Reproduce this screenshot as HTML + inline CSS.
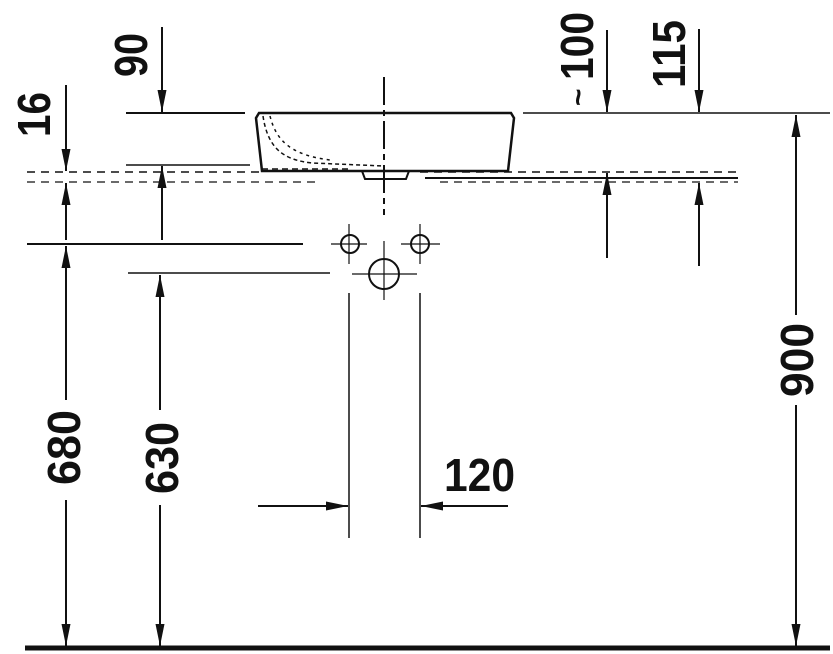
<!DOCTYPE html>
<html><head><meta charset="utf-8"><style>html,body{margin:0;padding:0;background:#fff}svg{display:block}</style></head><body>
<svg width="833" height="654" viewBox="0 0 833 654" xmlns="http://www.w3.org/2000/svg">
<defs>
<marker id="a" viewBox="0 0 22 9" refX="22" refY="4.5" markerWidth="22" markerHeight="9" markerUnits="userSpaceOnUse" orient="auto"><path d="M0,0 L22,4.5 L0,9 Z" fill="#111"/></marker>
</defs>
<g stroke="#111" fill="none">
<line x1="25" y1="648" x2="830" y2="648" stroke-width="5"/>
<line x1="126" y1="113" x2="245" y2="113" stroke-width="2"/>
<line x1="523" y1="113" x2="830" y2="113" stroke-width="1.5"/>
<line x1="126" y1="165" x2="250" y2="165" stroke-width="1.5"/>
<path d="M259,113 L511,113 L514,118 L508,171 L262,171 L256,118 Z" stroke-width="2.5"/>
<path d="M362,171 L365,179 L406,179 L409,171" stroke-width="2"/>
<path d="M263,116 C268,150 285,160 312,163 L384,166" stroke-width="1.5" stroke-dasharray="4,3"/>
<path d="M270,116 C276,140 290,155 330,160" stroke-width="1.5" stroke-dasharray="3,4"/>
<line x1="262" y1="169" x2="350" y2="169" stroke-width="1.5" stroke-dasharray="6,4"/>
<line x1="27" y1="172" x2="260" y2="172" stroke-width="1.5" stroke-dasharray="8,6"/>
<line x1="27" y1="182" x2="320" y2="182" stroke-width="1.2" stroke-dasharray="8,6"/>
<line x1="420" y1="172" x2="738" y2="172" stroke-width="1.5" stroke-dasharray="8,6"/>
<line x1="425" y1="178" x2="738" y2="178" stroke-width="2"/>
<line x1="440" y1="182" x2="738" y2="182" stroke-width="1.2" stroke-dasharray="8,6"/>
<line x1="384" y1="77" x2="384" y2="215" stroke-width="2" stroke-dasharray="28,5,6,5"/>
<line x1="27" y1="244" x2="303" y2="244" stroke-width="2"/>
<line x1="128" y1="273" x2="330" y2="273" stroke-width="1.5"/>
<circle cx="350" cy="244" r="9" stroke-width="2"/>
<line x1="331" y1="244" x2="367" y2="244" stroke-width="1.2"/>
<line x1="349" y1="224" x2="349" y2="264" stroke-width="1.2"/>
<circle cx="420" cy="244" r="9" stroke-width="2"/>
<line x1="401" y1="244" x2="440" y2="244" stroke-width="1.2"/>
<line x1="420" y1="224" x2="420" y2="264" stroke-width="1.2"/>
<circle cx="384" cy="274" r="15" stroke-width="2"/>
<line x1="352" y1="274" x2="417" y2="274" stroke-width="1.2"/>
<line x1="384" y1="241" x2="384" y2="300" stroke-width="1.2"/>
<line x1="349" y1="293" x2="349" y2="538" stroke-width="1.5"/>
<line x1="420" y1="293" x2="420" y2="538" stroke-width="1.5"/>
<g stroke-width="2">
<line x1="258" y1="506" x2="348" y2="506" marker-end="url(#a)"/>
<line x1="508" y1="506" x2="421" y2="506" marker-end="url(#a)"/>
<line x1="162" y1="27" x2="162" y2="112" marker-end="url(#a)"/>
<line x1="162" y1="240" x2="162" y2="166" marker-end="url(#a)"/>
<line x1="66" y1="85" x2="66" y2="171" marker-end="url(#a)"/>
<line x1="66" y1="240" x2="66" y2="183" marker-end="url(#a)"/>
<line x1="66" y1="400" x2="66" y2="246" marker-end="url(#a)"/>
<line x1="66" y1="500" x2="66" y2="646" marker-end="url(#a)"/>
<line x1="160" y1="410" x2="160" y2="275" marker-end="url(#a)"/>
<line x1="160" y1="505" x2="160" y2="646" marker-end="url(#a)"/>
<line x1="796" y1="315" x2="796" y2="115" marker-end="url(#a)"/>
<line x1="796" y1="405" x2="796" y2="646" marker-end="url(#a)"/>
<line x1="607" y1="30" x2="607" y2="112" marker-end="url(#a)"/>
<line x1="607" y1="258" x2="607" y2="173" marker-end="url(#a)"/>
<line x1="699" y1="29" x2="699" y2="112" marker-end="url(#a)"/>
<line x1="699" y1="266" x2="699" y2="183" marker-end="url(#a)"/>
</g>
</g>
<g font-family="Liberation Sans, sans-serif" font-weight="bold" font-size="46" fill="#111">
<text x="444" y="491" textLength="71" lengthAdjust="spacingAndGlyphs">120</text>
<text transform="translate(147,77) rotate(-90)" textLength="44" lengthAdjust="spacingAndGlyphs">90</text>
<text transform="translate(50,137) rotate(-90)" textLength="45" lengthAdjust="spacingAndGlyphs">16</text>
<text transform="translate(80,485) rotate(-90)" textLength="75" lengthAdjust="spacingAndGlyphs">680</text>
<text transform="translate(178,494) rotate(-90)" textLength="72" lengthAdjust="spacingAndGlyphs">630</text>
<text transform="translate(813,397) rotate(-90)" textLength="74" lengthAdjust="spacingAndGlyphs">900</text>
<text transform="translate(685,88) rotate(-90)" textLength="68" lengthAdjust="spacingAndGlyphs">115</text>
<text transform="translate(593,80) rotate(-90)" textLength="68" lengthAdjust="spacingAndGlyphs">100</text>
<text transform="translate(588,106) rotate(-90)" font-size="30">~</text>
</g>
</svg>
</body></html>
